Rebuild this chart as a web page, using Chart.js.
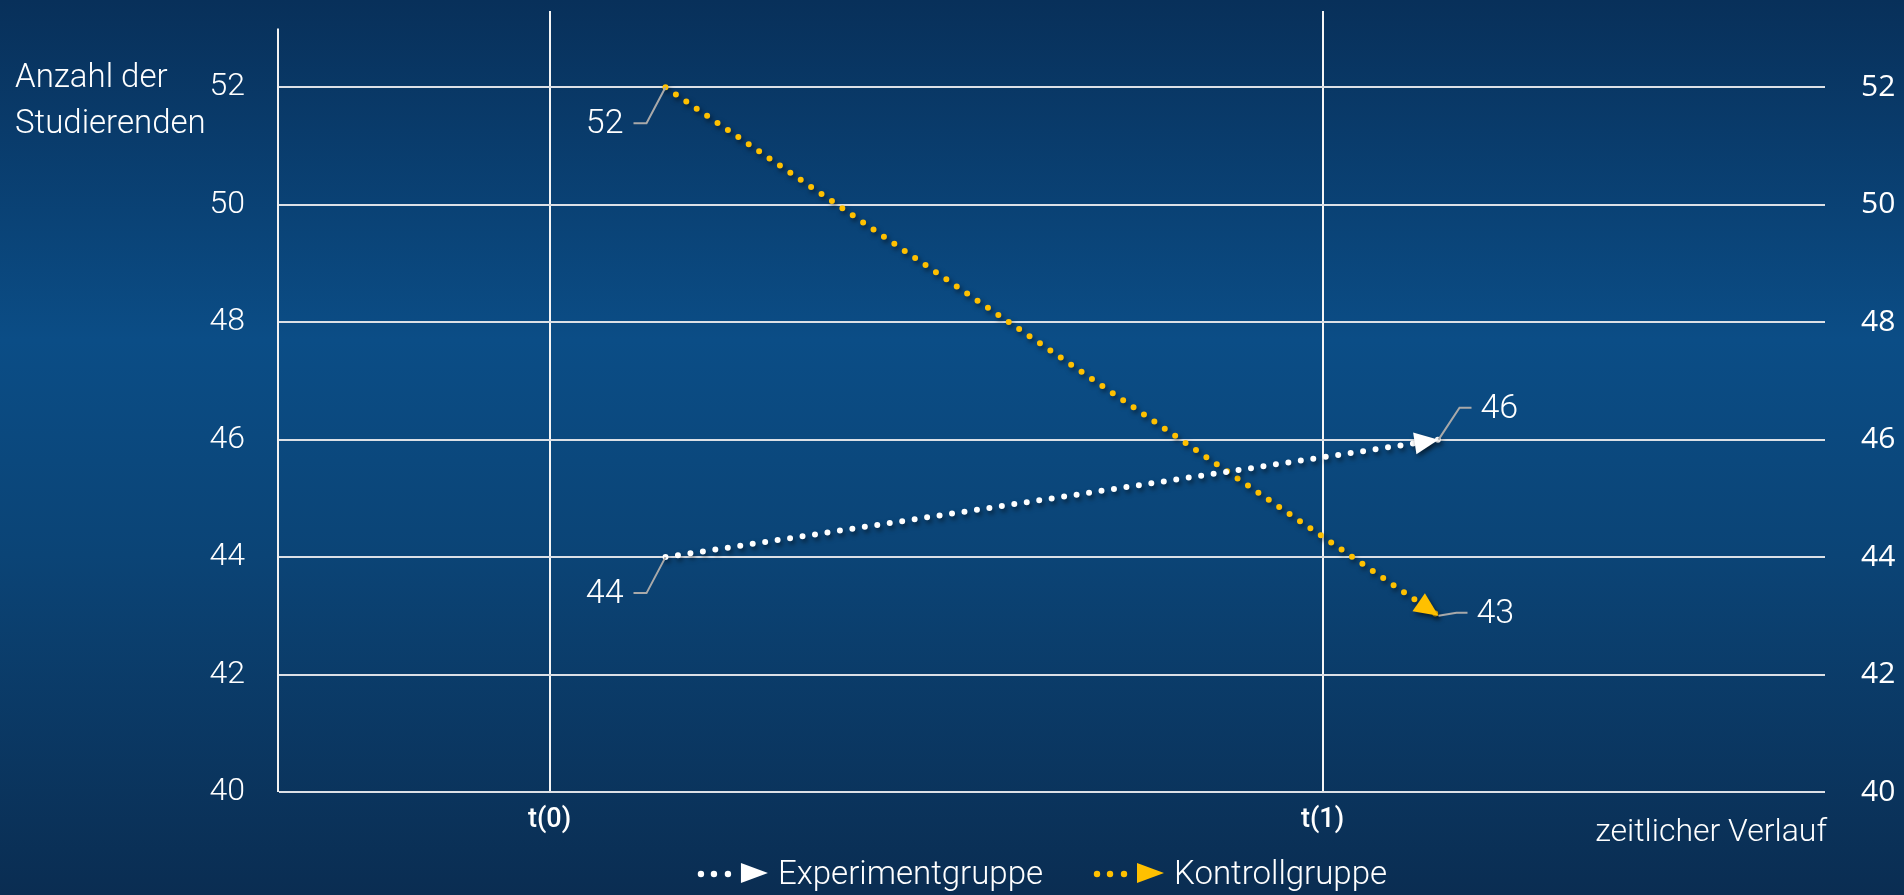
<!DOCTYPE html>
<html lang="de">
<head>
<meta charset="utf-8">
<title>Anzahl der Studierenden</title>
<script src="https://cdn.jsdelivr.net/npm/chart.js@4.4.1/dist/chart.umd.min.js"></script>
<style>
  html, body { margin: 0; padding: 0; }
  body {
    width: 1904px; height: 895px; overflow: hidden;
    background: linear-gradient(to bottom, #08305a 0%, #0b4d86 38%, #0b4476 62%, #0a2d52 100%);
  }
</style>
</head>
<body>
<canvas id="chart" width="1904" height="895"></canvas>
<script>
// Daten
const timeLabels = ['t(0)', 't(1)'];
const timeTicks = [0, 1];
const measureTimes = [0.15, 1.15];
const experimentValues = [44, 46];
const controlValues = [52, 43];
const seriesNames = ['Experimentgruppe', 'Kontrollgruppe'];
const seriesColors = ['#ffffff', '#ffc000'];
const yTicks = [40, 42, 44, 46, 48, 50, 52];

const FONT = 'Roboto, "Open Sans", sans-serif';

// Position der Beschriftungen relativ zum Punkt (Anfang / Ende)
const calloutStart = { bend: [-19, 36], end: [-32, 36], text: [-42, 37], align: 'right' };
const calloutEnd = {
  0: { bend: [21, -32], end: [33, -32], text: [42, -30], align: 'left' },
  1: { bend: [18, -3], end: [29, -3], text: [38, -1], align: 'left' }
};

function toPoints(values) {
  return values.map((v, i) => ({ x: measureTimes[i], y: v }));
}

// Schatten + Pfeilspitze
const arrowPlugin = {
  id: 'arrows',
  beforeDatasetDraw(chart) {
    const ctx = chart.ctx;
    ctx.save();
    ctx.shadowColor = 'rgba(0,0,0,0.55)';
    ctx.shadowBlur = 5;
    ctx.shadowOffsetX = 2;
    ctx.shadowOffsetY = 3;
  },
  afterDatasetDraw(chart, args) {
    const ctx = chart.ctx;
    const pts = chart.getDatasetMeta(args.index).data;
    const a = pts[pts.length - 2], b = pts[pts.length - 1];
    const ang = Math.atan2(b.y - a.y, b.x - a.x);
    ctx.translate(b.x, b.y);
    ctx.rotate(ang);
    ctx.fillStyle = chart.data.datasets[args.index].borderColor;
    ctx.beginPath();
    ctx.moveTo(0, 0);
    ctx.lineTo(-24, -11);
    ctx.lineTo(-24, 11);
    ctx.closePath();
    ctx.fill();
    ctx.restore();
  }
};

// Hilfslinien und Werte an den Punkten
const calloutPlugin = {
  id: 'callouts',
  afterDatasetsDraw(chart) {
    const ctx = chart.ctx;
    ctx.save();
    chart.data.datasets.forEach((ds, di) => {
      const pts = chart.getDatasetMeta(di).data;
      pts.forEach((p, i) => {
        const st = i === 0 ? calloutStart : calloutEnd[di];
        ctx.strokeStyle = '#a9a9a9';
        ctx.lineWidth = 2;
        ctx.beginPath();
        ctx.moveTo(p.x, p.y);
        ctx.lineTo(p.x + st.bend[0], p.y + st.bend[1]);
        ctx.lineTo(p.x + st.end[0], p.y + st.end[1]);
        ctx.stroke();
        ctx.fillStyle = '#ffffff';
        ctx.font = '300 34px ' + FONT;
        ctx.textAlign = st.align;
        ctx.textBaseline = 'middle';
        ctx.fillText(String(ds.data[i].y), p.x + st.text[0], p.y + st.text[1]);
      });
    });
    ctx.restore();
  }
};

// Achsenlinie, Titel, Legende
const decoPlugin = {
  id: 'deco',
  beforeDatasetsDraw(chart) {
    const ctx = chart.ctx, y = chart.scales.y, area = chart.chartArea;
    ctx.save();
    ctx.strokeStyle = '#f2f2f2';
    ctx.lineWidth = 2;
    ctx.beginPath();
    ctx.moveTo(area.left - 1, y.getPixelForValue(53));
    ctx.lineTo(area.left - 1, y.getPixelForValue(40));
    ctx.stroke();
    ctx.restore();
  },
  afterDraw(chart) {
    const ctx = chart.ctx, area = chart.chartArea;
    ctx.save();
    ctx.fillStyle = '#ffffff';
    ctx.font = '300 33px ' + FONT;
    ctx.textAlign = 'left';
    ctx.textBaseline = 'alphabetic';
    ctx.fillText('Anzahl der', 15, 87);
    ctx.fillText('Studierenden', 15, 133);

    ctx.font = '300 32px ' + FONT;
    ctx.textAlign = 'right';
    ctx.fillText('zeitlicher Verlauf', area.right + 2, 841);

    // Legende
    ctx.font = '300 33px ' + FONT;
    ctx.textAlign = 'left';
    const markerW = 71, gap = 10, itemGap = 50;
    const widths = seriesNames.map(n => ctx.measureText(n).width);
    const total = widths.reduce((s, w) => s + markerW + gap + w, 0) + itemGap;
    let x = (area.left + area.right) / 2 - 10 - total / 2;
    const ly = 873;
    chart.data.datasets.forEach((ds, i) => {
      ctx.fillStyle = ds.borderColor;
      [4, 17, 31].forEach(dx => {
        ctx.beginPath();
        ctx.arc(x + dx, ly + 1, 3.2, 0, Math.PI * 2);
        ctx.fill();
      });
      ctx.beginPath();
      ctx.moveTo(x + 44, ly - 10);
      ctx.lineTo(x + 71, ly);
      ctx.lineTo(x + 44, ly + 10);
      ctx.closePath();
      ctx.fill();
      ctx.fillStyle = '#ffffff';
      ctx.fillText(ds.label, x + markerW + gap, 884);
      x += markerW + gap + widths[i] + itemGap;
    });
    ctx.restore();
  }
};

const noPad = s => { s.paddingTop = 0; s.paddingBottom = 0; };

new Chart(document.getElementById('chart'), {
  type: 'line',
  data: {
    datasets: [
      {
        label: seriesNames[0],
        data: toPoints(experimentValues),
        borderColor: seriesColors[0],
        borderWidth: 6,
        borderDash: [0, 12.6],
        borderCapStyle: 'round',
        pointRadius: 0,
        fill: false
      },
      {
        label: seriesNames[1],
        data: toPoints(controlValues),
        borderColor: seriesColors[1],
        borderWidth: 6,
        borderDash: [0, 12.6],
        borderCapStyle: 'round',
        pointRadius: 0,
        fill: false
      }
    ]
  },
  options: {
    responsive: false,
    animation: false,
    layout: { padding: { top: 11, left: 0, right: 0, bottom: 0 } },
    plugins: {
      legend: { display: false },
      tooltip: { enabled: false }
    },
    scales: {
      x: {
        type: 'linear',
        min: -0.35,
        max: 1.65,
        afterBuildTicks: s => { s.ticks = timeTicks.map(v => ({ value: v })); },
        afterFit: s => { s.height = 103; s.paddingLeft = 0; s.paddingRight = 0; },
        grid: { color: '#f5f5f5', lineWidth: 2, drawTicks: false },
        border: { display: false },
        ticks: {
          color: '#ffffff',
          padding: 12,
          font: { family: FONT, size: 27, weight: '500' },
          callback: v => timeLabels[timeTicks.indexOf(v)]
        }
      },
      y: {
        min: 40,
        max: 53.3,
        afterBuildTicks: s => { s.ticks = yTicks.map(v => ({ value: v })); },
        afterFit: s => { s.width = 279; noPad(s); },
        grid: { color: '#dce0e6', lineWidth: 2, drawTicks: false },
        border: { display: false },
        ticks: {
          color: '#ffffff',
          padding: 34,
          font: { family: FONT, size: 32, weight: '300' },
          callback: v => String(v)
        }
      },
      y2: {
        position: 'right',
        min: 40,
        max: 53.3,
        afterBuildTicks: s => { s.ticks = yTicks.map(v => ({ value: v })); },
        afterFit: s => { s.width = 79; noPad(s); },
        grid: { display: false, drawTicks: false },
        border: { display: false },
        ticks: {
          color: '#ffffff',
          padding: 36,
          font: { family: '"Open Sans", sans-serif', size: 30 },
          callback: v => String(v)
        }
      }
    }
  },
  plugins: [arrowPlugin, calloutPlugin, decoPlugin]
});
</script>
</body>
</html>
